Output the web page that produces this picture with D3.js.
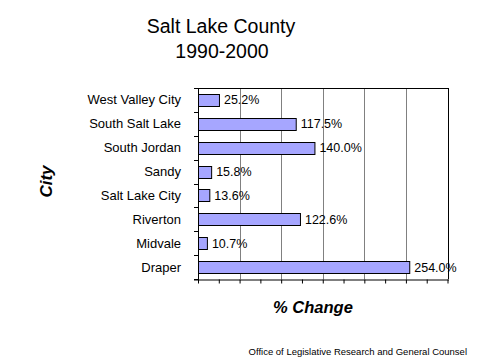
<!DOCTYPE html>
<html><head><meta charset="utf-8">
<script src="https://cdn.jsdelivr.net/npm/d3@7"></script>
<style>body{margin:0;background:#fff}svg{display:block}text{font-family:Arial,"Liberation Sans",sans-serif}</style>
</head><body>
<script>
const cities = ["West Valley City","South Salt Lake","South Jordan","Sandy","Salt Lake City","Riverton","Midvale","Draper"];
const changes = [25.2,117.5,140.0,15.8,13.6,122.6,10.7,254.0];
const gridTicks = [50,100,150,200,250];
const minorTicks = d3.range(0,301,25);

const W=480,H=360;
const svg=d3.select("body").append("svg").attr("width",W).attr("height",H);
const m={l:198,r:447.5,t:88,b:279};
const x=d3.scaleLinear().domain([0,300]).range([m.l,m.r]);
const y=d3.scaleBand().domain(cities).range([m.t,m.b]).paddingInner(0.5).paddingOuter(0.25);
const yb=d3.scaleBand().domain(cities).range([m.t,m.b]);

// title
svg.append("text").attr("x",221).attr("y",33).attr("text-anchor","middle").attr("font-size",19.5).text("Salt Lake County");
svg.append("text").attr("x",222).attr("y",58).attr("text-anchor","middle").attr("font-size",19.5).text("1990-2000");

// gridlines
svg.append("g").selectAll("line").data(gridTicks).join("line")
  .attr("x1",d=>Math.round(x(d))+0.5).attr("x2",d=>Math.round(x(d))+0.5)
  .attr("y1",m.t).attr("y2",m.b).attr("stroke","#808080").attr("stroke-width",1);

// top & right border
svg.append("line").attr("x1",m.l).attr("x2",Math.round(m.r)+0.5).attr("y1",m.t+0.5).attr("y2",m.t+0.5).attr("stroke","#000");
svg.append("line").attr("x1",Math.round(m.r)+0.5).attr("x2",Math.round(m.r)+0.5).attr("y1",m.t).attr("y2",m.b).attr("stroke","#000");

// bars
svg.append("g").selectAll("rect").data(cities).join("rect")
  .attr("x",m.l+0.5).attr("y",d=>Math.round(y(d))+0.5)
  .attr("width",(d,i)=>x(changes[i])-m.l).attr("height",Math.round(y.bandwidth()))
  .attr("fill","#a6a6ff").attr("stroke","#000").attr("stroke-width",1);

// value labels
svg.append("g").selectAll("text").data(cities).join("text")
  .attr("x",(d,i)=>x(changes[i])+5).attr("y",d=>y(d)+y.bandwidth()/2+4.5)
  .attr("font-size",12.5).text((d,i)=>changes[i].toFixed(1)+"%");

// x axis
const xAxis=d3.axisBottom(x).tickValues(minorTicks).tickSize(4).tickFormat("");
const gx=svg.append("g").attr("transform",`translate(0,${m.b+0.5})`).call(xAxis);
gx.select(".domain").attr("d",`M${m.l-4},0.5H${Math.round(m.r)+1}`);
gx.selectAll(".tick line").attr("stroke","#000");

// y axis with ticks at band boundaries
const gy=svg.append("g");
gy.append("line").attr("x1",m.l+0.5).attr("x2",m.l+0.5).attr("y1",m.t).attr("y2",m.b+1).attr("stroke","#000");
const bounds=cities.map(c=>yb(c)).concat([m.b]);
gy.selectAll("line.t").data(bounds).join("line").attr("class","t")
  .attr("x1",m.l-4).attr("x2",m.l).attr("y1",d=>Math.round(d)+0.5).attr("y2",d=>Math.round(d)+0.5).attr("stroke","#000");
gy.selectAll("text").data(cities).join("text")
  .attr("x",181).attr("y",d=>yb(d)+yb.bandwidth()/2+4.5).attr("text-anchor","end")
  .attr("font-size",13).text(d=>d);

// axis titles
svg.append("text").attr("transform","translate(52,181.5) rotate(-90)").attr("text-anchor","middle")
  .attr("font-size",17).attr("font-weight","bold").attr("font-style","italic").text("City");
svg.append("text").attr("x",313).attr("y",313).attr("text-anchor","middle")
  .attr("font-size",16.5).attr("font-weight","bold").attr("font-style","italic").text("% Change");

// footer
svg.append("text").attr("x",467).attr("y",355).attr("text-anchor","end").attr("font-size",9.5)
  .text("Office of Legislative Research and General Counsel");
</script>
</body></html>
